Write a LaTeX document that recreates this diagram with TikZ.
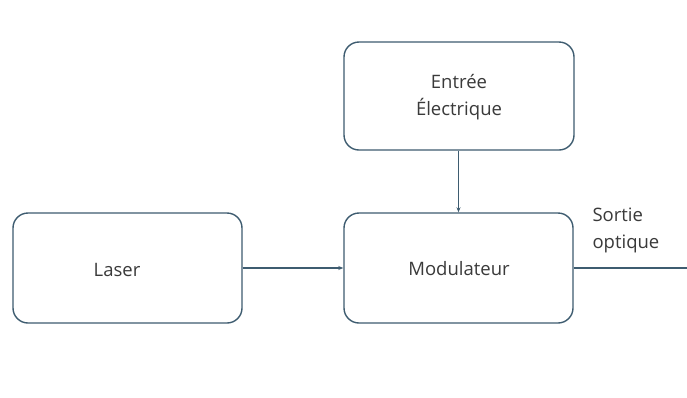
\documentclass[tikz,border=0pt]{standalone}
\usepackage{fontspec}
\setmainfont{Open Sans}
\usetikzlibrary{arrows.meta}
\definecolor{edge}{HTML}{3E5C70}
\definecolor{txt}{HTML}{3A3A3A}
\begin{document}
\begin{tikzpicture}[x=1pt,y=-1pt,
  blk/.style={draw=edge,line width=1.4pt,rounded corners=15pt,inner sep=0pt},
  lbl/.style={text=txt,font=\fontsize{18.5}{27}\selectfont,align=left},
  conn/.style={draw=edge,line width=1.2pt,-{Stealth[length=5pt,width=4pt]}}]
\useasboundingbox[fill=white] (0,0) rectangle (687,397);
\node[blk,minimum width=230pt,minimum height=108pt] (entree) at (459,96) {};
\node[lbl,align=center] (entreeT) at (459,97) {Entrée\\Électrique};
\node[blk,minimum width=229pt,minimum height=110pt] (laser) at (127.5,268) {};
\node[lbl] (laserT) at (117,270) {Laser};
\node[blk,minimum width=229pt,minimum height=110pt] (mod) at (458.5,268) {};
\node[lbl] (modT) at (459,269) {Modulateur};
\coordinate (out) at (687,268);
\node[lbl,anchor=west,align=left] (sortie) at (589,230) {Sortie\\optique};
\draw[conn] (laser.east) -- (mod.west);
\draw[conn] (entree.south -| mod.north) -- (mod.north);
\draw[draw=edge,line width=1.2pt] (mod.east) -- (out);
\end{tikzpicture}
\end{document}
